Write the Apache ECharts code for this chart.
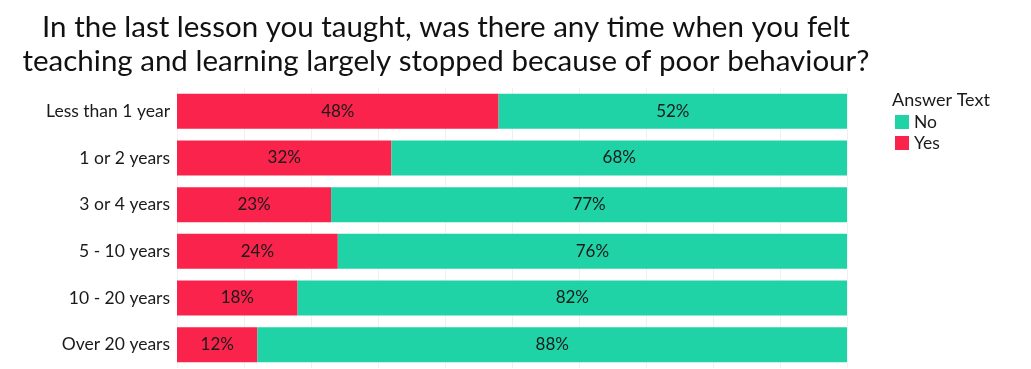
<!DOCTYPE html>
<html><head><meta charset="utf-8">
<script src="https://cdn.jsdelivr.net/npm/echarts@6/dist/echarts.min.js"></script>
<style>html,body{margin:0;padding:0;background:#fff}#c{width:1031px;height:369px}</style>
</head><body><div id="c"></div>
<script>
const categories = ['Less than 1 year','1 or 2 years','3 or 4 years','5 - 10 years','10 - 20 years','Over 20 years'];
const yesValues = [48,32,23,24,18,12];
const noValues = [52,68,77,76,82,88];
const seriesNames = ['No','Yes'];
const titleText = 'In the last lesson you taught, was there any time when you felt\nteaching and learning largely stopped because of poor behaviour?';
const legendTitle = 'Answer Text';

const FONT = 'Lato, "Noto Sans", sans-serif';
const chart = echarts.init(document.getElementById('c'));
const lbl = {show:true, position:'inside', formatter: p => p.value + '%', color:'#1a1a1a', fontFamily:FONT, fontSize:17};
chart.setOption({
  animation:false,
  textStyle:{fontFamily:FONT},
  title:[
    {text:titleText, left:441, textAlign:'center', top:5, textStyle:{fontFamily:FONT, fontSize:29.5, fontWeight:'normal', color:'#111', lineHeight:34}},
    {text:legendTitle, left:892, top:91, padding:0, textStyle:{fontFamily:FONT, fontSize:18, fontWeight:'normal', color:'#1a1a1a'}}
  ],
  legend:{data:seriesNames, orient:'vertical', left:895, top:113, padding:0, itemWidth:14, itemHeight:14, itemGap:3, itemTextGap:6, icon:'rect',
    textStyle:{fontFamily:FONT, fontSize:17.5, color:'#1a1a1a'}},
  grid:{left:177, right:184, top:88, bottom:1},
  xAxis:{type:'value', min:0, max:100, interval:10, axisLabel:{show:false}, axisLine:{show:false}, axisTick:{show:false},
    splitLine:{show:true, lineStyle:{color:'#f0f0f0', width:1}}},
  yAxis:{type:'category', data:categories, inverse:true, axisLine:{show:false}, axisTick:{show:false},
    axisLabel:{fontFamily:FONT, fontSize:17.5, color:'#1a1a1a', margin:7}},
  series:[
    {name:'Yes', type:'bar', stack:'a', data:yesValues, barWidth:'75%', itemStyle:{color:'#f9234b'}, label:lbl},
    {name:'No', type:'bar', stack:'a', data:noValues, barWidth:'75%', itemStyle:{color:'#1fd3a6'}, label:lbl}
  ]
});
</script></body></html>
